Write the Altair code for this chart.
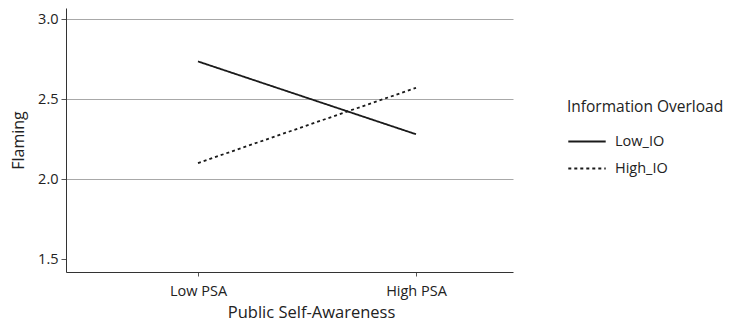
import altair as alt
import pandas as pd

psa_pos = [0, 1, 0, 1]
groups = ["Low_IO", "Low_IO", "High_IO", "High_IO"]
flaming = [2.735, 2.28, 2.10, 2.57]

df = pd.DataFrame({"psa": psa_pos, "group": groups, "flaming": flaming})

FONT = "Open Sans"

base = alt.Chart(df).mark_line(color="#1a1a1a", strokeWidth=1.8).encode(
    x=alt.X("psa:Q",
            scale=alt.Scale(domain=[-0.6055, 1.445], nice=False, zero=False),
            axis=alt.Axis(values=[0, 1], labelExpr="datum.value == 0 ? 'Low PSA' : 'High PSA'",
                          title="Public Self-Awareness", grid=False, tickSize=4,
                          domainColor="#333", tickColor="#555", labelColor="#222",
                          titleColor="#222", labelFontSize=14.5, titleFontSize=16.5,
                          titleFontWeight="normal", labelFont=FONT, titleFont=FONT,
                          labelPadding=8, titlePadding=7, titleX=245, titleAlign="center")),
    y=alt.Y("flaming:Q",
            scale=alt.Scale(domain=[1.419, 3.069], nice=False, zero=False),
            axis=alt.Axis(values=[1.5, 2.0, 2.5, 3.0], format=".1f", title="Flaming",
                          gridColor="#a8a8a8", gridWidth=1, tickSize=5,
                          gridOpacity={"condition": {"test": "datum.value == 1.5", "value": 0}, "value": 1},
                          domainColor="#333", tickColor="#555", labelColor="#222",
                          titleColor="#222", labelFontSize=14.5, titleFontSize=16,
                          titleFontWeight="normal", labelFont=FONT, titleFont=FONT,
                          labelPadding=3, titlePadding=11)),
    strokeDash=alt.StrokeDash("group:N",
                              scale=alt.Scale(domain=["Low_IO", "High_IO"], range=[[1, 0], [3, 3]]),
                              legend=alt.Legend(title="Information Overload", orient="none",
                                                legendX=501, legendY=92, symbolType="stroke",
                                                symbolSize=1400, symbolStrokeColor="#1a1a1a",
                                                symbolStrokeWidth=1.8,
                                                titleFontSize=15.5, titleFontWeight="normal",
                                                titleFont=FONT, labelFont=FONT, labelFontSize=14.5,
                                                titleColor="#222", labelColor="#222",
                                                titleLimit=300,
                                                rowPadding=-15, titlePadding=6, labelOffset=8)),
)

chart = base.properties(
    width=447, height=264,
    padding={"left": 58, "top": 0, "right": 213, "bottom": 56},
    autosize=alt.AutoSizeParams(type="none"),
).configure_view(stroke=None)

chart.save("out.html", embed_options={"renderer": "svg", "actions": False})
